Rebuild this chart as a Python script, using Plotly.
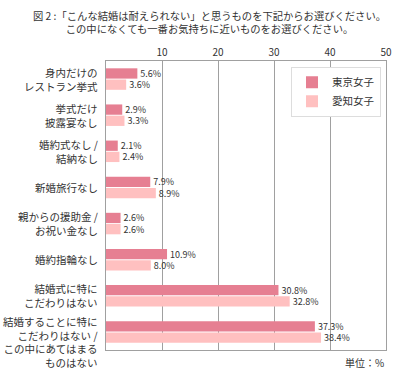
import plotly.graph_objects as go

categories = [
    "身内だけの<br>レストラン挙式",
    "挙式だけ<br>披露宴なし",
    "婚約式なし /<br>結納なし",
    "新婚旅行なし",
    "親からの援助金 /<br>お祝い金なし",
    "婚約指輪なし",
    "結婚式に特に<br>こだわりはない",
    "結婚することに特に<br>こだわりはない /<br>この中にあてはまる<br>ものはない",
]
tokyo = [5.6, 2.9, 2.1, 7.9, 2.6, 10.9, 30.8, 37.3]
aichi = [3.6, 3.3, 2.4, 8.9, 2.6, 8.0, 32.8, 38.4]
series_names = ["東京女子", "愛知女子"]
tick_vals = [10, 20, 30, 40, 50]

FONT = "Noto Sans CJK JP"
TXT = "#333333"

fig = go.Figure()
for name, vals, col in [(series_names[0], tokyo, "#E67F92"), (series_names[1], aichi, "#FFC0C0")]:
    fig.add_trace(go.Bar(
        y=categories, x=vals, orientation="h", name=name,
        marker=dict(color=col, line=dict(width=0)),
        text=[f"{v:.1f}%" for v in vals], textposition="outside",
        constraintext="none",
        textfont=dict(size=9, color=TXT, family=FONT),
        cliponaxis=False, hoverinfo="skip",
    ))

annotations = []
for i, cat in enumerate(categories):
    nlines = cat.count("<br>") + 1
    annotations.append(dict(
        text=cat, xref="paper", yref="y", x=0, y=cat,
        xanchor="right", yanchor="middle", align="right", showarrow=False,
        xshift=-6, yshift=-10 if nlines == 4 else 0,
        font=dict(size=10.5, color=TXT, family=FONT)))

annotations += [
    dict(text="図 2 :「こんな結婚は耐えられない」と思うものを下記からお選びください。<br>この中になくても一番お気持ちに近いものをお選びください。",
         xref="paper", yref="paper", x=(209 - 106) / 280, y=1 + 55 / 289,
         xanchor="center", yanchor="top", showarrow=False, align="center",
         font=dict(size=10.3, color=TXT, family=FONT)),
    dict(text="単位：%", xref="paper", yref="paper", x=1.0, y=-12 / 289,
         xanchor="right", yanchor="middle", showarrow=False,
         font=dict(size=10, color=TXT, family=FONT)),
]

fig.update_layout(
    width=400, height=380,
    margin=dict(l=106, r=14, t=61, b=30, autoexpand=False),
    paper_bgcolor="white", plot_bgcolor="white",
    barmode="group", bargap=0.38, bargroupgap=0.08,
    font=dict(family=FONT, color=TXT, size=10),
    showlegend=True,
    legend=dict(x=(381 - 106) / 280, y=0.98, xanchor="right", yanchor="top",
                bgcolor="white", bordercolor="#dddddd", borderwidth=1,
                font=dict(size=10.5, color=TXT), traceorder="normal",
                tracegroupgap=0, itemwidth=30),
    xaxis=dict(side="top", range=[0, 50], tickvals=tick_vals,
               showgrid=True, gridcolor="#a0a0a0", gridwidth=1,
               zeroline=False, showline=True, linecolor="#a0a0a0",
               mirror=True, ticks="", automargin=False,
               tickfont=dict(size=10, color=TXT)),
    yaxis=dict(autorange=False, range=[7.5, -0.5], type="category",
               showline=True, linecolor="#a0a0a0", mirror=True,
               ticks="", showgrid=False, showticklabels=False,
               automargin=False),
    annotations=annotations,
)

fig.write_html("out.html", config={"displayModeBar": False},
               post_script="document.body.style.margin='0';document.body.style.padding='0';")
